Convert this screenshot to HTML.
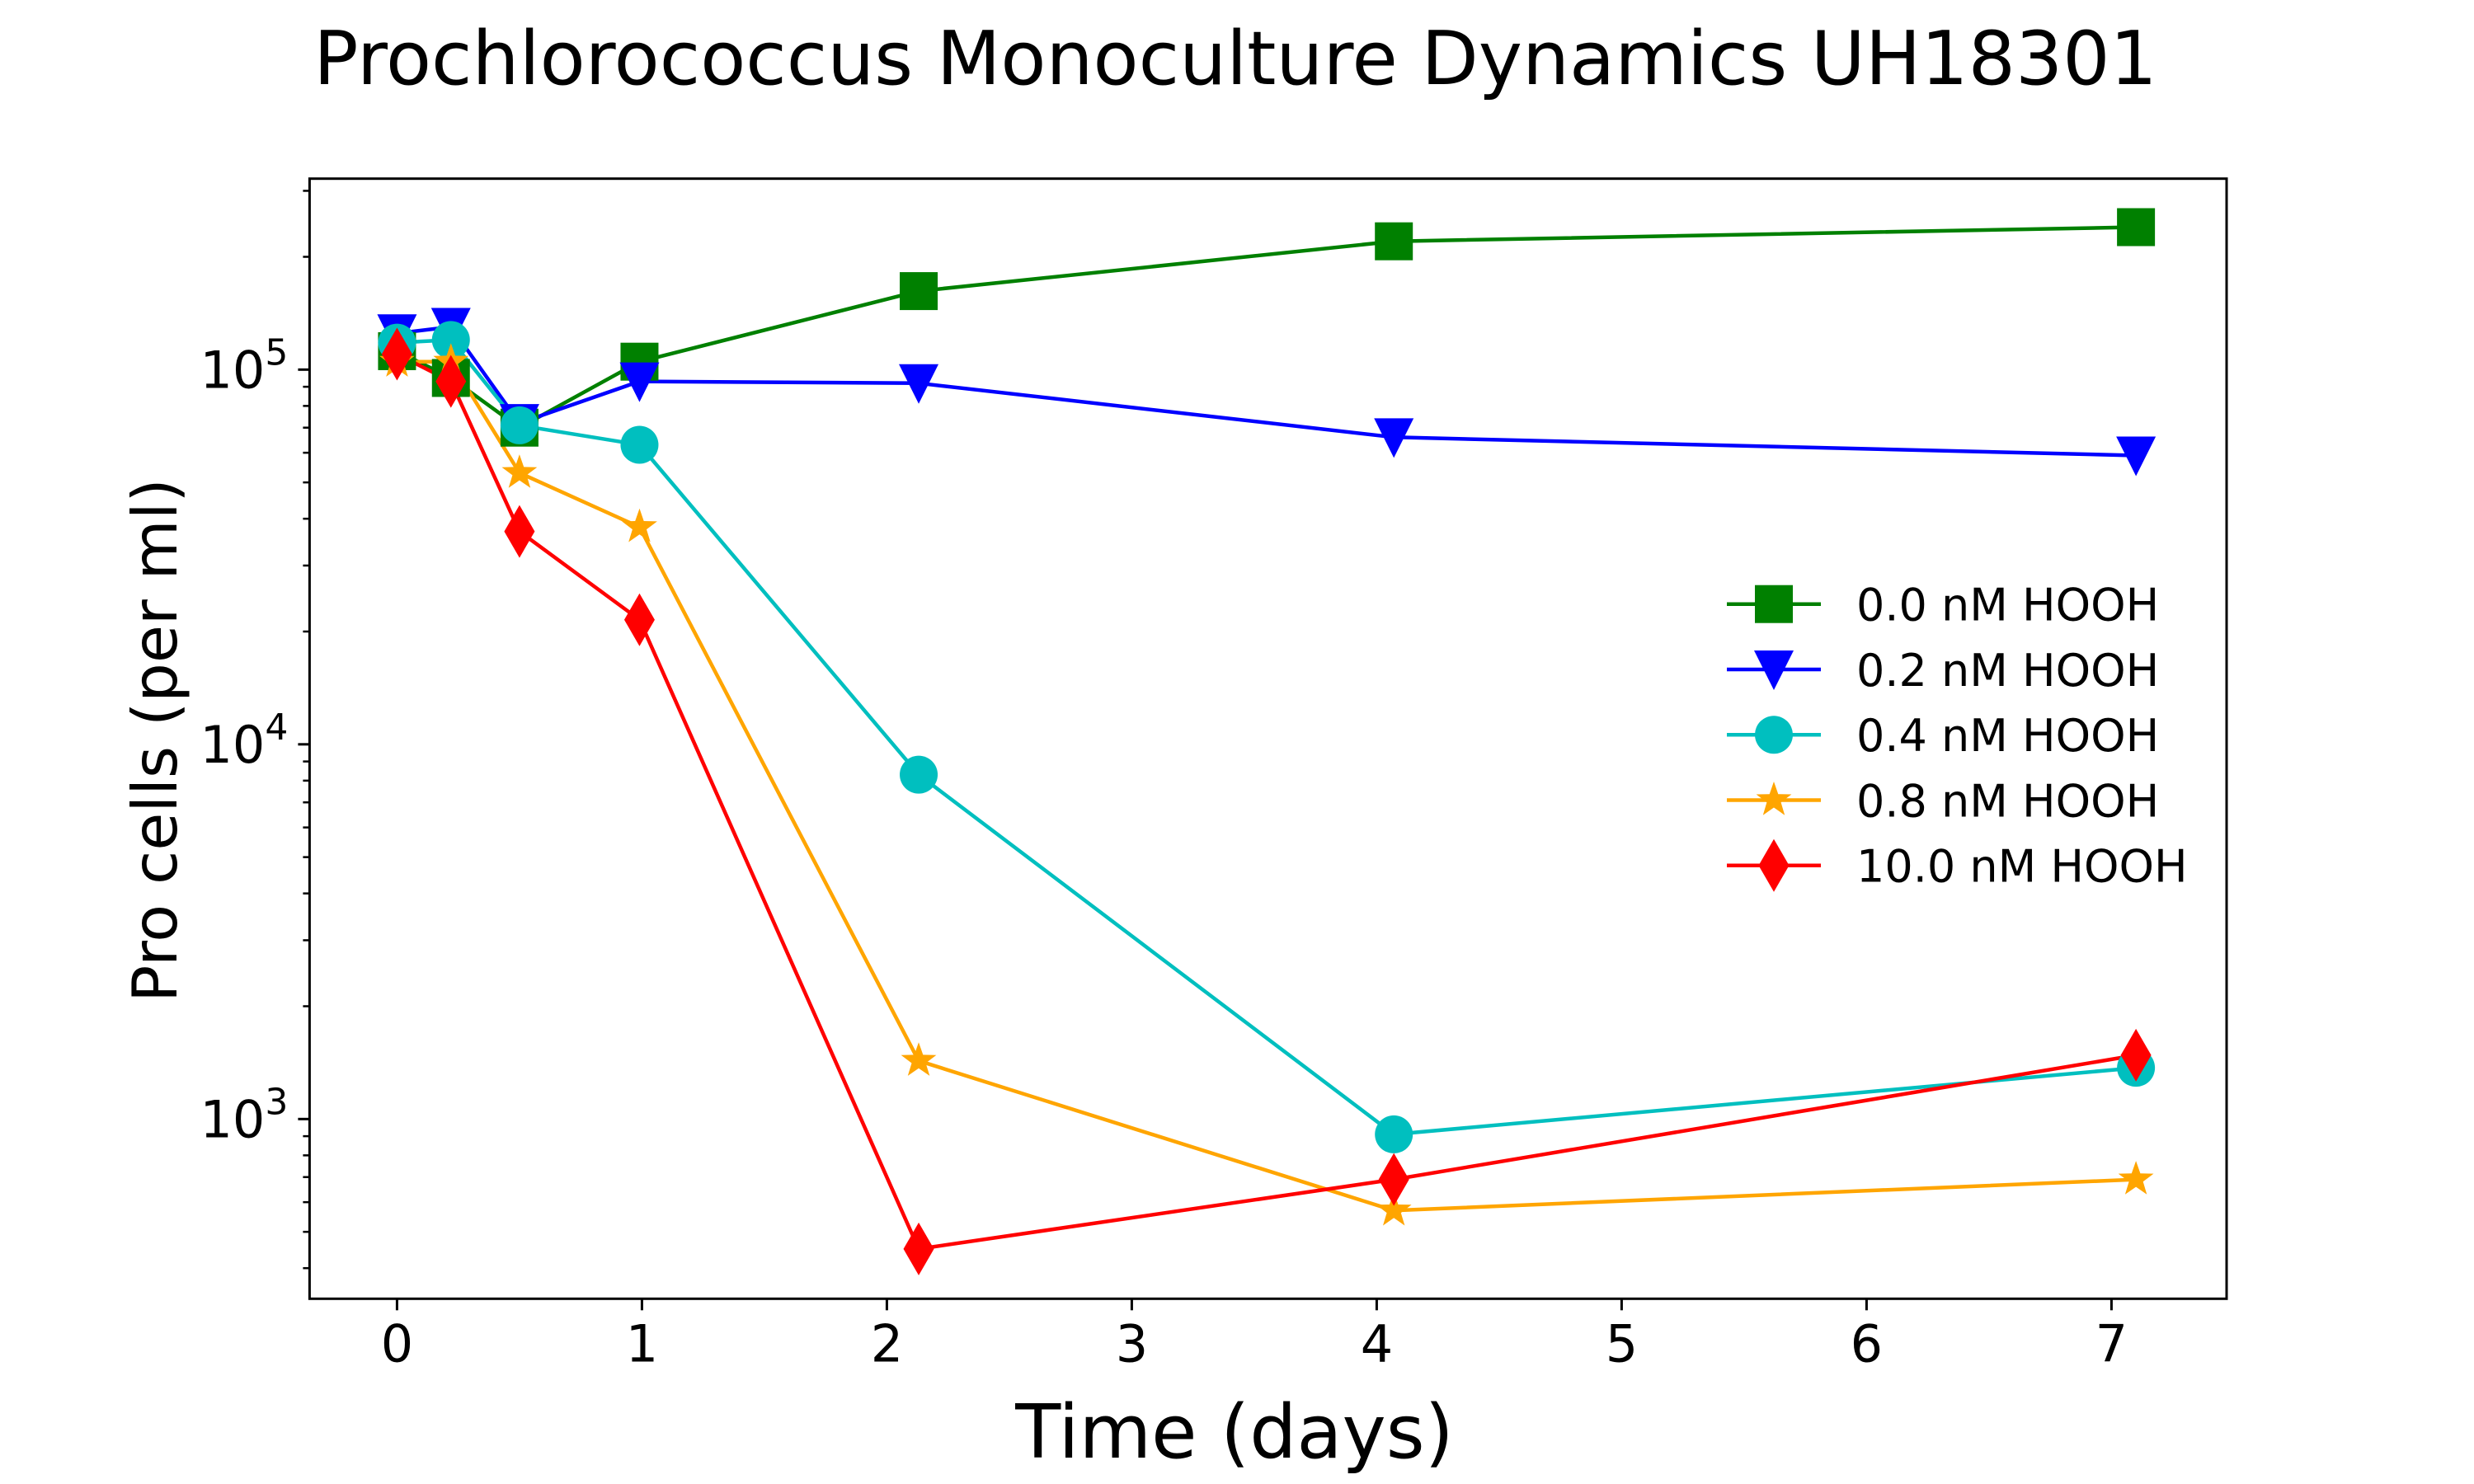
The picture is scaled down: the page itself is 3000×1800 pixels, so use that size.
<!DOCTYPE html>
<html><head><meta charset="utf-8"><style>
html,body{margin:0;padding:0;background:#fff;}
svg{display:block;font-family:"DejaVu Sans","Liberation Sans",sans-serif;}
</style></head><body>
<svg id="chart" width="3000" height="1800" viewBox="0 0 3000 1800">
<text x="1498" y="102" font-size="90" text-anchor="middle">Prochlorococcus Monoculture Dynamics UH18301</text>
<text x="1497" y="1768" font-size="90" text-anchor="middle">Time (days)</text>
<text x="0" y="0" font-size="75" text-anchor="middle" transform="translate(214,898) rotate(-90)">Pro cells (per ml)</text>
<g id="axes"></g>
</svg>
<script>
const times = [0, 0.22, 0.5, 0.99, 2.13, 4.07, 7.1];
const seriesNames = ["0.0 nM HOOH","0.2 nM HOOH","0.4 nM HOOH","0.8 nM HOOH","10.0 nM HOOH"];
const green = [112000, 95000, 70000, 105000, 162000, 220000, 240000];
const blue = [125000, 130000, 72000, 93000, 92000, 66000, 59000];
const cyan = [118000, 120000, 71000, 63000, 8300, 910, 1370];
const orange = [105000, 105000, 53000, 38000, 1430, 570, 690];
const red = [110000, 93000, 37000, 21500, 450, 690, 1480];
const xTicks = [0,1,2,3,4,5,6,7];
const yTickExps = [3,4,5];

const L=375.4,R=2700,T=216.7,B=1575.3;
const X0=-0.357,X1=7.47,Y0=2.5204,Y1=5.5096;
const sx=v=>L+(v-X0)/(X1-X0)*(R-L);
const sy=v=>B-(Math.log10(v)-Y0)/(Y1-Y0)*(B-T);
const NS="http://www.w3.org/2000/svg";
const g=document.getElementById('axes');
function mk(tag,attrs,parent){const e=document.createElementNS(NS,tag);for(const k in attrs)e.setAttribute(k,attrs[k]);(parent||g).appendChild(e);return e;}

xTicks.forEach(t=>{
  const x=sx(t);
  const tk=mk('line',{x1:x,x2:x,y1:B,y2:B+14,stroke:'#000','stroke-width':3});
  
  
  const lb=mk('text',{x:x,y:B+76,'font-size':62,'text-anchor':'middle'});
  lb.textContent=t;
  
  
});
yTickExps.forEach(e=>{
  const y=sy(Math.pow(10,e));
  const tk=mk('line',{x1:L-14,x2:L,y1:y,y2:y,stroke:'#000','stroke-width':3});
  
  
  const lb=mk('text',{x:L-26,y:y+22,'font-size':62,'text-anchor':'end'});
  lb.textContent='10';
  const sp=mk('tspan',{dy:-28,'font-size':44},lb);
  sp.textContent=e;
  
  
});
for(let e=2;e<=5;e++){for(let m=2;m<=9;m++){const v=m*Math.pow(10,e);const y=sy(v);if(y<T||y>B)continue;
  const tk=mk('line',{x1:L-8,x2:L,y1:y,y2:y,stroke:'#000','stroke-width':2.5});
  
  
}}

const series=[{v:green,c:'#008000',m:'s'},{v:blue,c:'#0000ff',m:'v'},{v:cyan,c:'#00bfbf',m:'o'},{v:orange,c:'#ffa500',m:'*'},{v:red,c:'#ff0000',m:'d'}];
function marker(type,x,y,c,name){
  let e;
  if(type==='s') e=mk('rect',{x:x-23,y:y-23,width:46,height:46,fill:c});
  else if(type==='v') e=mk('path',{d:`M${x-24},${y-23}L${x+24},${y-23}L${x},${y+25}Z`,fill:c});
  else if(type==='o') e=mk('circle',{cx:x,cy:y,r:23,fill:c});
  else if(type==='d') e=mk('path',{d:`M${x},${y-32}L${x+18.5},${y}L${x},${y+32}L${x-18.5},${y}Z`,fill:c});
  else {let p='';for(let i=0;i<10;i++){const r=i%2?9:22.5;const a=-Math.PI/2+i*Math.PI/5;p+=(i?'L':'M')+(x+r*Math.cos(a)).toFixed(1)+','+(y+r*Math.sin(a)).toFixed(1);}e=mk('path',{d:p+'Z',fill:c});}
  
  
  return e;
}
series.forEach((s,i)=>{
  const pts=s.v.map((v,j)=>sx(times[j]).toFixed(1)+','+sy(v).toFixed(1)).join(' ');
  const pl=mk('polyline',{points:pts,fill:'none',stroke:s.c,'stroke-width':4.5,'stroke-linejoin':'round'});
  
  
});
series.forEach((s,i)=>{
  s.v.forEach((v,j)=>marker(s.m,sx(times[j]),sy(v),s.c,'point-'+i+'-'+j));
});
series.forEach((s,i)=>{
  const y=732.7+i*79.25;
  const ln=mk('line',{x1:2094,x2:2208,y1:y,y2:y,stroke:s.c,'stroke-width':4.5});
  
  
  marker(s.m,2151,y,s.c,'legend-marker-'+i);
  const t=mk('text',{x:2251,y:y+20,'font-size':54});
  t.textContent=seriesNames[i];
  
  
});
const fr=mk('rect',{x:L,y:T,width:R-L,height:B-T,fill:'none',stroke:'#000','stroke-width':3});


</script>
</body></html>
